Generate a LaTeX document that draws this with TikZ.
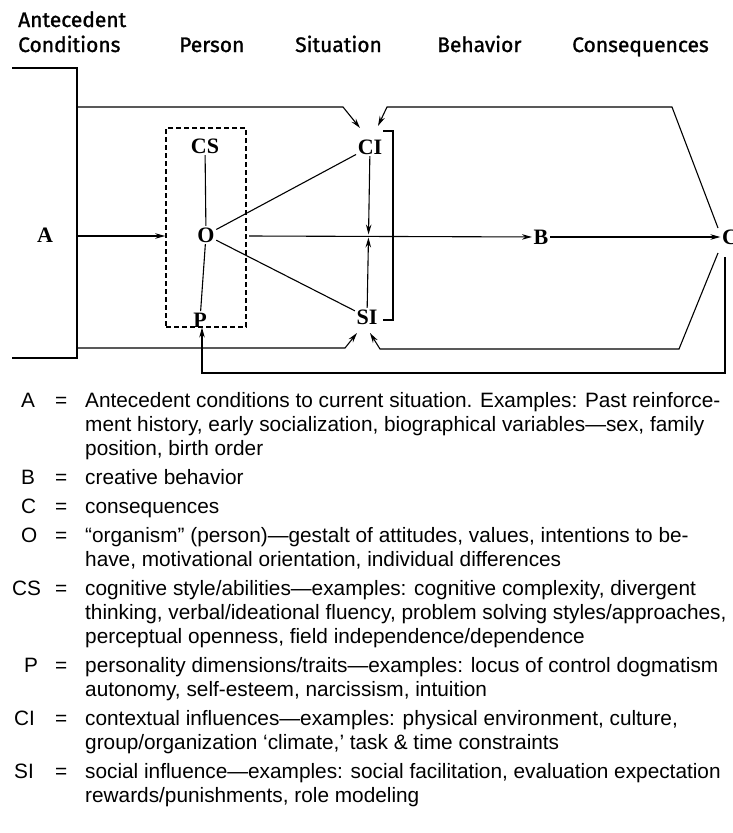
\documentclass[tikz,border=0pt]{standalone}
\usepackage{fontspec}
\setmainfont{Liberation Sans}
\newfontfamily\hdfont{Fira Sans}[FakeBold=1.2]
\newfontfamily\lbfont{Liberation Serif}
\usetikzlibrary{arrows.meta}
\begin{document}
\begin{tikzpicture}[x=1pt,y=-1pt,
  hd/.style={font=\hdfont\fontsize{21}{24}\selectfont, anchor=base west, inner sep=0pt},
  lb/.style={font=\lbfont\bfseries\fontsize{22}{24}\selectfont, inner sep=1.5pt},
  lg/.style={font=\fontsize{20.8}{24}\selectfont, anchor=base west, inner sep=0pt},
  conn/.style={line width=1.1pt},
  arr/.style={line width=1.1pt, -{Stealth[length=10pt,width=5.5pt]}},
  dbox/.style={draw, dash pattern=on 5pt off 3pt, line width=1.6pt, minimum width=80pt, minimum height=199pt, inner sep=0pt}]
\useasboundingbox (0,0) rectangle (733,833);
% headings
\node[hd] (hA1) at (18,27) {Antecedent};
\node[hd] (hA2) at (18,52) {Conditions};
\node[hd] (hP) at (179,52) {Person};
\node[hd] (hS) at (295,52) {Situation};
\node[hd] (hB) at (437,52) {Behavior};
\node[hd] (hC) at (572,52) {Consequences};
% diagram nodes
\node[dbox] (box) at (206,227.5) {};
\node[lb] (A) at (45,235) {A};
\node[lb] (CS) at (205,146) {CS};
\node[lb] (O) at (206,235) {O};
\node[lb] (P) at (200,320) {P};
\node[lb] (CI) at (370,147) {CI};
\node[lb] (SI) at (367,317) {SI};
\node[lb] (B) at (541,237) {B};
\node[lb] (C) at (730,237) {C};
% coordinates
\coordinate (L1) at (12,68);
\coordinate (L2) at (77,68);
\coordinate (L3) at (77,358);
\coordinate (L4) at (12,358);
\coordinate (Ain) at (77,236);
\coordinate (Ost) at (249,236);
\coordinate (mid) at (368.5,236);
\coordinate (T1) at (77,107);
\coordinate (T2) at (343,107);
\coordinate (CIa) at (360,128);
\coordinate (R1) at (718,228);
\coordinate (R2) at (672,107);
\coordinate (R3) at (387,107);
\coordinate (CIb) at (378,126);
\coordinate (U1) at (77,348);
\coordinate (U2) at (345,348);
\coordinate (SIa) at (357,333);
\coordinate (V1) at (718,253);
\coordinate (V2) at (679,349);
\coordinate (V3) at (380,349);
\coordinate (SIb) at (370,333);
\coordinate (W1) at (725,257);
\coordinate (W2) at (725,373);
\coordinate (W3) at (202,373);
\coordinate (Pin) at (202,327.5);
\coordinate (K1) at (383,131);
\coordinate (K2) at (393,131);
\coordinate (K3) at (393,320);
\coordinate (K4) at (383,320);
% connectors
\draw[conn] (L1) -- (L2) -- (L3) -- (L4);
\draw[conn] (CS) -- (O);
\draw[conn] (O) -- (P);
\draw[conn] (O) -- (CI);
\draw[conn] (O) -- (SI);
\draw[arr] (Ain) -- (box.west |- Ain);
\draw[arr] (Ost) -- (B);
\draw[arr] (B) -- (C);
\draw[arr, shorten >=1.5pt] (CI) -- (mid);
\draw[arr, shorten >=1.5pt] (SI) -- (mid);
\draw[conn] (K1) -- (K2) -- (K3) -- (K4);
\draw[arr] (T1) -- (T2) -- (CIa);
\draw[arr] (R1) -- (R2) -- (R3) -- (CIb);
\draw[arr] (U1) -- (U2) -- (SIa);
\draw[arr] (V1) -- (V2) -- (V3) -- (SIb);
\draw[arr] (W1) -- (W2) -- (W3) -- (Pin);
% legend
\node[lg] (kA) at (21,407) {A};
\node[lg] (eA) at (55,407) {=};
\node[lg] (tA1) at (85,407) {Antecedent conditions to current situation. Examples: Past reinforce-};
\node[lg] (tA2) at (85,431) {ment history, early socialization, biographical variables—sex, family};
\node[lg] (tA3) at (85,455) {position, birth order};
\node[lg] (kB) at (21,484) {B};
\node[lg] (eB) at (55,484) {=};
\node[lg] (tB) at (85,484) {creative behavior};
\node[lg] (kC) at (21,513) {C};
\node[lg] (eC) at (55,513) {=};
\node[lg] (tC) at (85,513) {consequences};
\node[lg] (kO) at (21,542) {O};
\node[lg] (eO) at (55,542) {=};
\node[lg] (tO1) at (85,542) {“organism” (person)—gestalt of attitudes, values, intentions to be-};
\node[lg] (tO2) at (85,566) {have, motivational orientation, individual differences};
\node[lg] (kCS) at (12,595) {CS};
\node[lg] (eCS) at (55,595) {=};
\node[lg] (tCS1) at (85,595) {cognitive style/abilities—examples: cognitive complexity, divergent};
\node[lg] (tCS2) at (85,619) {thinking, verbal/ideational fluency, problem solving styles/approaches,};
\node[lg] (tCS3) at (85,643) {perceptual openness, field independence/dependence};
\node[lg] (kP) at (24,672) {P};
\node[lg] (eP) at (55,672) {=};
\node[lg] (tP1) at (85,672) {personality dimensions/traits—examples: locus of control dogmatism};
\node[lg] (tP2) at (85,696) {autonomy, self-esteem, narcissism, intuition};
\node[lg] (kCI) at (14,725) {CI};
\node[lg] (eCI) at (55,725) {=};
\node[lg] (tCI1) at (85,725) {contextual influences—examples: physical environment, culture,};
\node[lg] (tCI2) at (85,749) {group/organization ‘climate,’ task \& time constraints};
\node[lg] (kSI) at (14,778) {SI};
\node[lg] (eSI) at (55,778) {=};
\node[lg] (tSI1) at (85,778) {social influence—examples: social facilitation, evaluation expectation};
\node[lg] (tSI2) at (85,802) {rewards/punishments, role modeling};
\end{tikzpicture}
\end{document}
